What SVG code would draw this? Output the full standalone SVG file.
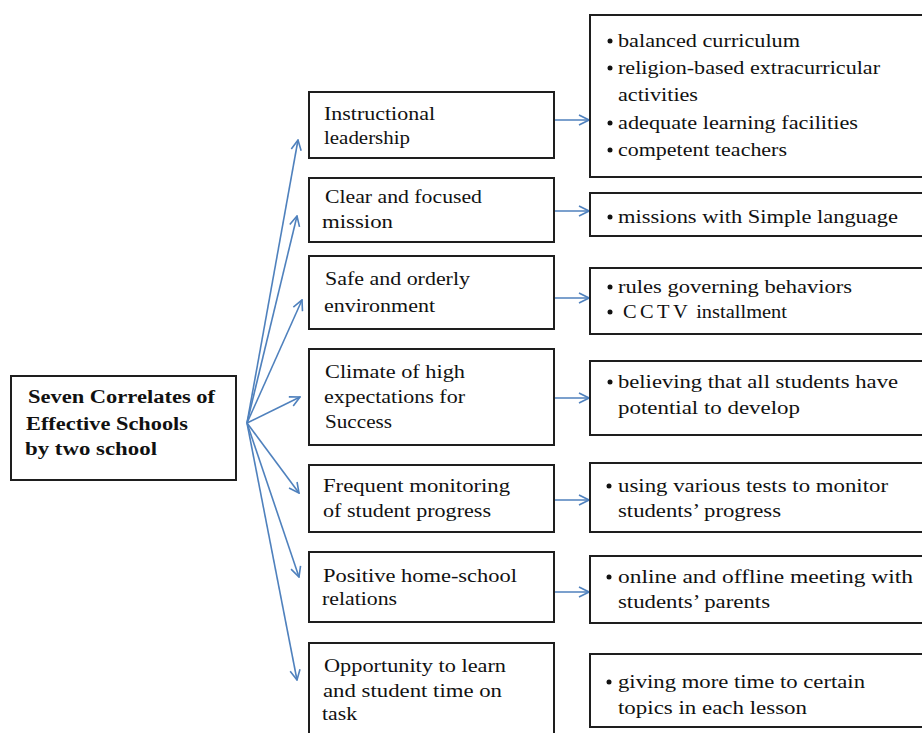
<svg xmlns="http://www.w3.org/2000/svg" width="922" height="733" viewBox="0 0 922 733">
<style>
.box{fill:#fff;stroke:#1e1e1e;stroke-width:2}
.t{font-family:"Liberation Serif","Times New Roman",serif;font-size:18px;fill:#111}
.b{font-weight:bold}
.c{fill:none;stroke:#4f81bd;stroke-width:1.6}
.dot{fill:#111}
</style>
<defs>
<marker id="ah" viewBox="0 0 12 12" refX="11" refY="6" markerWidth="12" markerHeight="12" markerUnits="userSpaceOnUse" orient="auto">
<path d="M1,1 L11,6 L1,11" fill="none" stroke="#4f81bd" stroke-width="1.6"/>
</marker>
</defs>
<rect width="922" height="733" fill="#fff"/>

<g id="connectors">
<line class="c" x1="247" y1="423" x2="298" y2="140" marker-end="url(#ah)"/>
<line class="c" x1="247" y1="423" x2="297" y2="216" marker-end="url(#ah)"/>
<line class="c" x1="247" y1="423" x2="302" y2="300" marker-end="url(#ah)"/>
<line class="c" x1="247" y1="423" x2="300" y2="397" marker-end="url(#ah)"/>
<line class="c" x1="247" y1="423" x2="299" y2="493" marker-end="url(#ah)"/>
<line class="c" x1="247" y1="423" x2="299" y2="577" marker-end="url(#ah)"/>
<line class="c" x1="247" y1="423" x2="297" y2="680" marker-end="url(#ah)"/>
<line class="c" x1="555" y1="120" x2="589" y2="120" marker-end="url(#ah)"/>
<line class="c" x1="555" y1="211" x2="589" y2="211" marker-end="url(#ah)"/>
<line class="c" x1="555" y1="298" x2="589" y2="298" marker-end="url(#ah)"/>
<line class="c" x1="555" y1="398" x2="589" y2="398" marker-end="url(#ah)"/>
<line class="c" x1="555" y1="500" x2="589" y2="500" marker-end="url(#ah)"/>
<line class="c" x1="555" y1="592" x2="589" y2="592" marker-end="url(#ah)"/>
</g>

<g id="root">
<rect class="box" x="11" y="376" width="225" height="104"/>
<text class="t b" x="28" y="403" textLength="187" lengthAdjust="spacingAndGlyphs">Seven Correlates  of</text>
<text class="t b" x="26" y="430" textLength="162" lengthAdjust="spacingAndGlyphs">Effective Schools</text>
<text class="t b" x="25" y="455" textLength="132" lengthAdjust="spacingAndGlyphs">by two  school</text>
</g>

<g id="m1">
<rect class="box" x="309" y="92" width="245" height="66"/>
<text class="t" x="324" y="120" textLength="111" lengthAdjust="spacingAndGlyphs">Instructional</text>
<text class="t" x="324" y="144" textLength="86" lengthAdjust="spacingAndGlyphs">leadership</text>
</g>
<g id="m2">
<rect class="box" x="309" y="178" width="245" height="64"/>
<text class="t" x="325" y="203" textLength="157" lengthAdjust="spacingAndGlyphs">Clear  and focused</text>
<text class="t" x="322" y="228" textLength="71" lengthAdjust="spacingAndGlyphs">mission</text>
</g>
<g id="m3">
<rect class="box" x="309" y="256" width="245" height="73"/>
<text class="t" x="325" y="285" textLength="145" lengthAdjust="spacingAndGlyphs">Safe  and orderly</text>
<text class="t" x="324" y="312" textLength="111" lengthAdjust="spacingAndGlyphs">environment</text>
</g>
<g id="m4">
<rect class="box" x="309" y="349" width="245" height="96"/>
<text class="t" x="325" y="378" textLength="140" lengthAdjust="spacingAndGlyphs">Climate of high</text>
<text class="t" x="324" y="403" textLength="141" lengthAdjust="spacingAndGlyphs">expectations  for</text>
<text class="t" x="325" y="428" textLength="67" lengthAdjust="spacingAndGlyphs">Success</text>
</g>
<g id="m5">
<rect class="box" x="309" y="465" width="245" height="67"/>
<text class="t" x="323" y="492" textLength="187" lengthAdjust="spacingAndGlyphs">Frequent monitoring</text>
<text class="t" x="323" y="517" textLength="168" lengthAdjust="spacingAndGlyphs">of student progress</text>
</g>
<g id="m6">
<rect class="box" x="309" y="552" width="245" height="70"/>
<text class="t" x="323" y="582" textLength="194" lengthAdjust="spacingAndGlyphs">Positive home-school</text>
<text class="t" x="322" y="605" textLength="75" lengthAdjust="spacingAndGlyphs">relations</text>
</g>
<g id="m7">
<rect class="box" x="309" y="643" width="245" height="100"/>
<text class="t" x="324" y="672" textLength="182" lengthAdjust="spacingAndGlyphs">Opportunity to learn</text>
<text class="t" x="323" y="697" textLength="179" lengthAdjust="spacingAndGlyphs">and student time on</text>
<text class="t" x="322" y="720" textLength="35" lengthAdjust="spacingAndGlyphs">task</text>
</g>

<g id="r1">
<rect class="box" x="590" y="15" width="345" height="162"/>
<circle class="dot" cx="610" cy="41" r="2.5"/>
<text class="t" x="618" y="47" textLength="182" lengthAdjust="spacingAndGlyphs">balanced  curriculum</text>
<circle class="dot" cx="610" cy="68" r="2.5"/>
<text class="t" x="618" y="74" textLength="262" lengthAdjust="spacingAndGlyphs">religion-based  extracurricular</text>
<text class="t" x="618" y="101" textLength="80" lengthAdjust="spacingAndGlyphs">activities</text>
<circle class="dot" cx="610" cy="123" r="2.5"/>
<text class="t" x="618" y="129" textLength="240" lengthAdjust="spacingAndGlyphs">adequate  learning facilities</text>
<circle class="dot" cx="610" cy="150" r="2.5"/>
<text class="t" x="618" y="156" textLength="169" lengthAdjust="spacingAndGlyphs">competent teachers</text>
</g>
<g id="r2">
<rect class="box" x="590" y="193" width="345" height="43"/>
<circle class="dot" cx="610" cy="217" r="2.5"/>
<text class="t" x="618" y="223" textLength="280" lengthAdjust="spacingAndGlyphs">missions with Simple language</text>
</g>
<g id="r3">
<rect class="box" x="590" y="268" width="345" height="66"/>
<circle class="dot" cx="610" cy="287" r="2.5"/>
<text class="t" x="618" y="293" textLength="234" lengthAdjust="spacingAndGlyphs">rules  governing behaviors</text>
<circle class="dot" cx="610" cy="312" r="2.5"/>
<text class="t" x="623" y="318" textLength="164" lengthAdjust="spacingAndGlyphs"><tspan letter-spacing="3">CCTV</tspan> installment</text>
</g>
<g id="r4">
<rect class="box" x="590" y="361" width="345" height="74"/>
<circle class="dot" cx="610" cy="382" r="2.5"/>
<text class="t" x="618" y="388" textLength="280" lengthAdjust="spacingAndGlyphs">believing that all students have</text>
<text class="t" x="618" y="414" textLength="182" lengthAdjust="spacingAndGlyphs">potential to develop</text>
</g>
<g id="r5">
<rect class="box" x="590" y="463" width="345" height="69"/>
<circle class="dot" cx="609" cy="486" r="2.5"/>
<text class="t" x="618" y="492" textLength="270" lengthAdjust="spacingAndGlyphs">using various  tests to monitor</text>
<text class="t" x="618" y="517" textLength="163" lengthAdjust="spacingAndGlyphs">students’ progress</text>
</g>
<g id="r6">
<rect class="box" x="590" y="556" width="345" height="67"/>
<circle class="dot" cx="609" cy="577" r="2.5"/>
<text class="t" x="618" y="583" textLength="295" lengthAdjust="spacingAndGlyphs">online  and  offline  meeting with</text>
<text class="t" x="618" y="608" textLength="152" lengthAdjust="spacingAndGlyphs">students’ parents</text>
</g>
<g id="r7">
<rect class="box" x="590" y="654" width="345" height="73"/>
<circle class="dot" cx="609" cy="682" r="2.5"/>
<text class="t" x="618" y="688" textLength="247" lengthAdjust="spacingAndGlyphs">giving more time to certain</text>
<text class="t" x="618" y="714" textLength="189" lengthAdjust="spacingAndGlyphs">topics in each  lesson</text>
</g>
</svg>
